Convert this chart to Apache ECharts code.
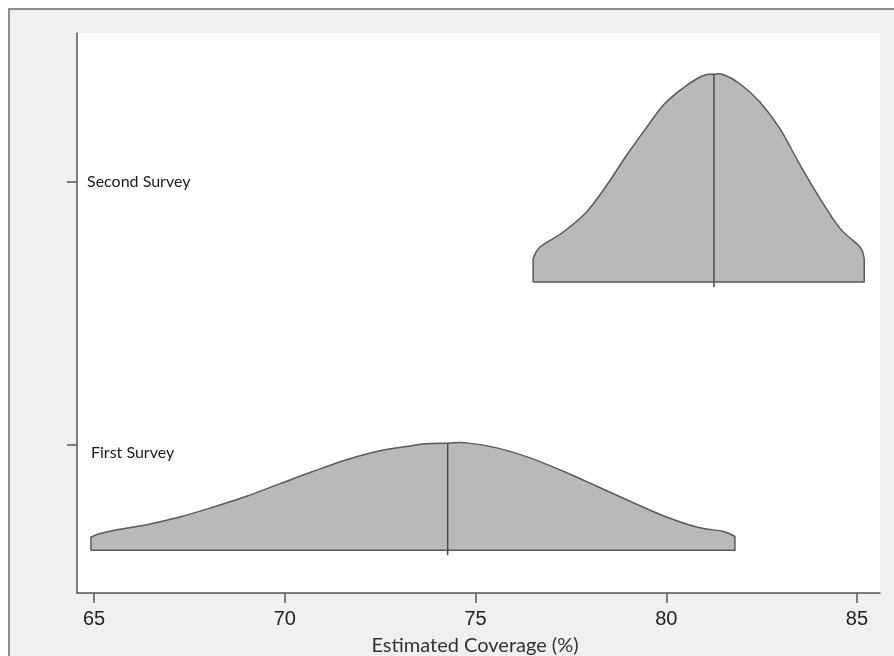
<!DOCTYPE html>
<html>
<head>
<meta charset="utf-8">
<script src="https://cdn.jsdelivr.net/npm/echarts@6/dist/echarts.min.js"></script>
<style>
  html, body { margin: 0; padding: 0; background: #ffffff; overflow: hidden; }
  #chart { width: 894px; height: 656px; }
</style>
</head>
<body>
<div id="chart"></div>
<script>
// ---- data ----
const categories = ['First Survey', 'Second Survey'];
const xTicks = [65, 70, 75, 80, 85];
const xTitle = 'Estimated Coverage (%)';

// First survey: estimated coverage (%) and density height
const firstX = [64.92, 65.16, 65.51, 66.38, 67.25, 68.13, 69.00, 69.88, 70.75, 71.62, 72.50, 73.37, 73.72, 74.27, 74.77, 75.56, 76.43, 77.30, 78.18, 79.05, 79.92, 80.80, 81.50, 81.80];
const firstD = [0.050, 0.063, 0.075, 0.097, 0.126, 0.164, 0.205, 0.253, 0.300, 0.344, 0.378, 0.398, 0.405, 0.407, 0.408, 0.389, 0.351, 0.300, 0.243, 0.186, 0.131, 0.088, 0.071, 0.052];

// Second survey: estimated coverage (%) and density height
const secondX = [76.51, 76.69, 77.30, 77.91, 78.44, 78.96, 79.49, 79.92, 80.36, 80.80, 81.06, 81.25, 81.49, 81.93, 82.46, 82.98, 83.51, 84.03, 84.56, 85.08, 85.19];
const secondD = [0.089, 0.133, 0.190, 0.266, 0.368, 0.482, 0.589, 0.672, 0.729, 0.773, 0.789, 0.790, 0.789, 0.754, 0.684, 0.583, 0.444, 0.317, 0.203, 0.133, 0.089];

// medians (%)
const medians = [74.27, 81.25];

// ---- rendering ----
const seriesX = [firstX, secondX];
const seriesD = [firstD, secondD];
const baseOffset = [0.40, 0.38]; // baseline sits below the category position

function interp(xs, ds, x) {
  for (let i = 0; i < xs.length - 1; i++) {
    if (x >= xs[i] && x <= xs[i + 1]) {
      const t = (x - xs[i]) / (xs[i + 1] - xs[i]);
      return ds[i] + t * (ds[i + 1] - ds[i]);
    }
  }
  return 0;
}

// smooth path through pixel points (Catmull-Rom -> cubic Bezier)
function smoothPath(p) {
  let d = '';
  for (let i = 0; i < p.length - 1; i++) {
    const p0 = p[i - 1] || p[i];
    const p1 = p[i];
    const p2 = p[i + 1];
    const p3 = p[i + 2] || p2;
    const c1x = p1[0] + (p2[0] - p0[0]) / 6;
    const c1y = p1[1] + (p2[1] - p0[1]) / 6;
    const c2x = p2[0] - (p3[0] - p1[0]) / 6;
    const c2y = p2[1] - (p3[1] - p1[1]) / 6;
    d += ' C' + c1x + ' ' + c1y + ' ' + c2x + ' ' + c2y + ' ' + p2[0] + ' ' + p2[1];
  }
  return d;
}

const chart = echarts.init(document.getElementById('chart'), null, { renderer: 'canvas' });

const customSeries = categories.map(function (name, k) {
  return {
    type: 'custom',
    name: name,
    coordinateSystem: 'cartesian2d',
    data: [[medians[k], k + 1]],
    silent: true,
    renderItem: function (params, api) {
      const cat = api.value(1);
      const base = cat - baseOffset[k];
      const xs = seriesX[k], ds = seriesD[k];
      const curve = [];
      for (let i = 0; i < xs.length; i++) {
        curve.push(api.coord([xs[i], base + ds[i]]));
      }
      const b0 = api.coord([xs[0], base]);
      const b1 = api.coord([xs[xs.length - 1], base]);
      const pathData = 'M' + b0[0] + ' ' + b0[1] +
        ' L' + curve[0][0] + ' ' + curve[0][1] +
        smoothPath(curve) +
        ' L' + b1[0] + ' ' + b1[1] + ' Z';
      const m = api.value(0);
      const top = api.coord([m, base + interp(xs, ds, m)]);
      const bot = api.coord([m, base]);
      return {
        type: 'group',
        children: [
          {
            type: 'path',
            shape: { pathData: pathData },
            style: { fill: '#b9b9b9', stroke: '#5a5a5a', lineWidth: 1.5, lineJoin: 'round' }
          },
          {
            type: 'line',
            shape: { x1: top[0], y1: top[1], x2: bot[0], y2: bot[1] + 5 },
            style: { stroke: '#4a4a4a', lineWidth: 1.5 }
          }
        ]
      };
    }
  };
});

const option = {
  backgroundColor: '#ffffff',
  animation: false,
  graphic: [{
    type: 'rect',
    z: -10,
    shape: { x: 9, y: 9, width: 950, height: 700 },
    style: { fill: '#f0f0f0', stroke: '#8c8c8c', lineWidth: 2 }
  }],
  grid: {
    left: 77, right: 14, top: 33, bottom: 63,
    containLabel: false,
    outerBoundsMode: 'none',
    show: true, backgroundColor: '#ffffff', borderWidth: 0
  },
  xAxis: {
    type: 'value',
    min: 64.554, max: 85.603,
    name: xTitle,
    nameLocation: 'middle',
    nameGap: 43,
    nameTextStyle: { fontFamily: 'Lato', fontSize: 20, color: '#333', padding: [0, 7, 0, 0] },
    axisLine: { show: true, lineStyle: { color: '#555', width: 1.5 } },
    axisTick: { show: true, length: 10, customValues: xTicks, lineStyle: { color: '#555', width: 1.5 } },
    axisLabel: {
      customValues: xTicks, margin: 16,
      fontFamily: 'Liberation Sans', fontSize: 20, color: '#222'
    },
    splitLine: { show: false }
  },
  yAxis: {
    type: 'value',
    min: 0.437, max: 2.567,
    axisLine: { show: true, lineStyle: { color: '#555', width: 1.5 } },
    axisTick: { show: true, length: 10, inside: false, customValues: [1, 2], lineStyle: { color: '#555', width: 1.5 } },
    axisLabel: {
      customValues: [1, 2],
      inside: true, margin: 10,
      fontFamily: 'Lato', fontSize: 16, color: '#1a1a1a',
      formatter: function (v) {
        const name = categories[Math.round(v) - 1];
        return Math.round(v) === 1 ? '{a|' + name + '}' : '{b|' + name + '}';
      },
      rich: {
        a: { fontFamily: 'Lato', fontSize: 16, color: '#1a1a1a', padding: [16, 0, 0, 4] },
        b: { fontFamily: 'Lato', fontSize: 16, color: '#1a1a1a', padding: [0, 0, 0, 0] }
      }
    },
    splitLine: { show: false }
  },
  series: customSeries
};

chart.setOption(option);
</script>
</body>
</html>
